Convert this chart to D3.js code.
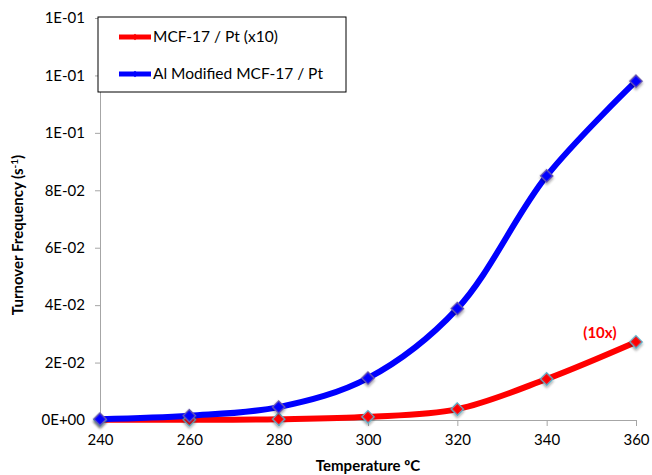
<!DOCTYPE html>
<html>
<head>
<meta charset="utf-8">
<script src="https://cdn.jsdelivr.net/npm/d3@7"></script>
<style>
  body { margin: 0; background: #fff; }
  svg text { font-family: Lato, "Open Sans", sans-serif; fill: #000; }
</style>
</head>
<body>
<div class="graph"></div>
<script>
// data
var temps = [240, 260, 280, 300, 320, 340, 360];
var mcfPt = [0.0001, 0.0001, 0.0003, 0.0011, 0.0038, 0.0143, 0.0272];     // already x10
var alMcfPt = [0.0003, 0.0015, 0.0045, 0.0146, 0.0388, 0.0850, 0.1180];
var xTicks = [240, 260, 280, 300, 320, 340, 360];
var yTicks = [0, 0.02, 0.04, 0.06, 0.08, 0.10, 0.12, 0.14];
var yTickLabels = ["0E+00", "2E-02", "4E-02", "6E-02", "8E-02", "1E-01", "1E-01", "1E-01"];
var seriesNames = ["MCF-17 / Pt (x10)", "Al Modified MCF-17 / Pt"];
var seriesColors = ["#ff0000", "#0000ff"];

var width = 652, height = 475;
var margin = {top: 18, right: 16, bottom: 55, left: 100};
var w = width - margin.left - margin.right,
    h = height - margin.top - margin.bottom;

var x = d3.scaleLinear().domain([240, 360]).range([0, w]);
var y = d3.scaleLinear().domain([0, 0.14]).range([h, 0]);

var svg = d3.select(".graph").append("svg")
    .attr("width", width)
    .attr("height", height);

var defs = svg.append("defs");
var f = defs.append("filter").attr("id", "shadow")
    .attr("x", "-50%").attr("y", "-50%").attr("width", "200%").attr("height", "200%");
f.append("feDropShadow").attr("dx", 1.5).attr("dy", 1.5).attr("stdDeviation", 1.2)
    .attr("flood-color", "#000").attr("flood-opacity", 0.35);

var g = svg.append("g")
    .attr("transform", "translate(" + margin.left + "," + margin.top + ")");

// axes
var xAxis = g.append("g")
    .attr("transform", "translate(0," + h + ")")
    .call(d3.axisBottom(x).tickValues(xTicks).tickSize(6).tickSizeOuter(0).tickFormat(d3.format("d")));
var yAxis = g.append("g")
    .call(d3.axisLeft(y).tickValues(yTicks).tickSize(5).tickSizeOuter(0)
      .tickFormat(function(d, i) { return yTickLabels[i]; }));

[xAxis, yAxis].forEach(function(a) {
  a.select(".domain").attr("stroke", "#a6a6a6");
  a.selectAll(".tick line").attr("stroke", "#a6a6a6");
  a.selectAll(".tick text").style("font-size", "15px").attr("fill", "#000");
});
xAxis.selectAll(".tick text").attr("dy", "1.05em");
yAxis.selectAll(".tick text").attr("x", -15);

// axis titles
g.append("text")
    .attr("x", w / 2)
    .attr("y", h + 51)
    .attr("text-anchor", "middle")
    .style("font-size", "15px")
    .style("font-weight", "bold")
    .text("Temperature \u00baC");

var yt = g.append("text")
    .attr("transform", "translate(" + (-77) + "," + (h / 2 + 16) + ") rotate(-90)")
    .attr("text-anchor", "middle")
    .style("font-size", "15px")
    .style("font-weight", "bold");
yt.append("tspan").text("Turnover Frequency (s");
yt.append("tspan").attr("dy", -5).style("font-size", "10px").text("-1");
yt.append("tspan").attr("dy", 5).text(")");

// lines
var line = d3.line()
    .x(function(d, i) { return x(temps[i]); })
    .y(function(d) { return y(d); })
    .curve(d3.curveCatmullRom.alpha(0.5));

var allSeries = [mcfPt, alMcfPt];

allSeries.forEach(function(s, k) {
  g.append("path")
      .datum(s)
      .attr("fill", "none")
      .attr("stroke", seriesColors[k])
      .attr("stroke-width", 6)
      .attr("stroke-linejoin", "round")
      .attr("d", line);
});

var diamond = d3.symbol().type(d3.symbolSquare).size(80);
allSeries.forEach(function(s, k) {
  g.append("g").selectAll("path")
      .data(s)
      .enter().append("path")
      .attr("d", diamond)
      .attr("transform", function(d, i) { return "translate(" + x(temps[i]) + "," + y(d) + ") rotate(45)"; })
      .attr("fill", seriesColors[k])
      .attr("stroke", k === 0 ? "#4bacc6" : "#6a5aa8")
      .attr("stroke-width", 1.3)
      .attr("filter", "url(#shadow)");
});

// annotation
g.append("text")
    .attr("x", x(360) - 36)
    .attr("y", y(0.0272) - 4)
    .attr("text-anchor", "middle")
    .style("font-size", "15px")
    .style("font-weight", "bold")
    .style("fill", "#ff0000")
    .text("(10x)");

// legend
var lg = svg.append("g").attr("transform", "translate(98,17)");
lg.append("rect")
    .attr("width", 248).attr("height", 75)
    .attr("fill", "#fff")
    .attr("stroke", "#000")
    .attr("stroke-width", 1);

seriesNames.forEach(function(name, k) {
  var ly = 20 + k * 37;
  lg.append("line")
      .attr("x1", 21).attr("x2", 53)
      .attr("y1", ly).attr("y2", ly)
      .attr("stroke", seriesColors[k])
      .attr("stroke-width", 5);
  lg.append("path")
      .attr("d", d3.symbol().type(d3.symbolSquare).size(22))
      .attr("transform", "translate(37," + ly + ") rotate(45)")
      .attr("fill", seriesColors[k]);
  lg.append("text")
      .attr("x", 55)
      .attr("y", ly + 5)
      .style("font-size", "15.5px")
      .text(name);
});
</script>
</body>
</html>
